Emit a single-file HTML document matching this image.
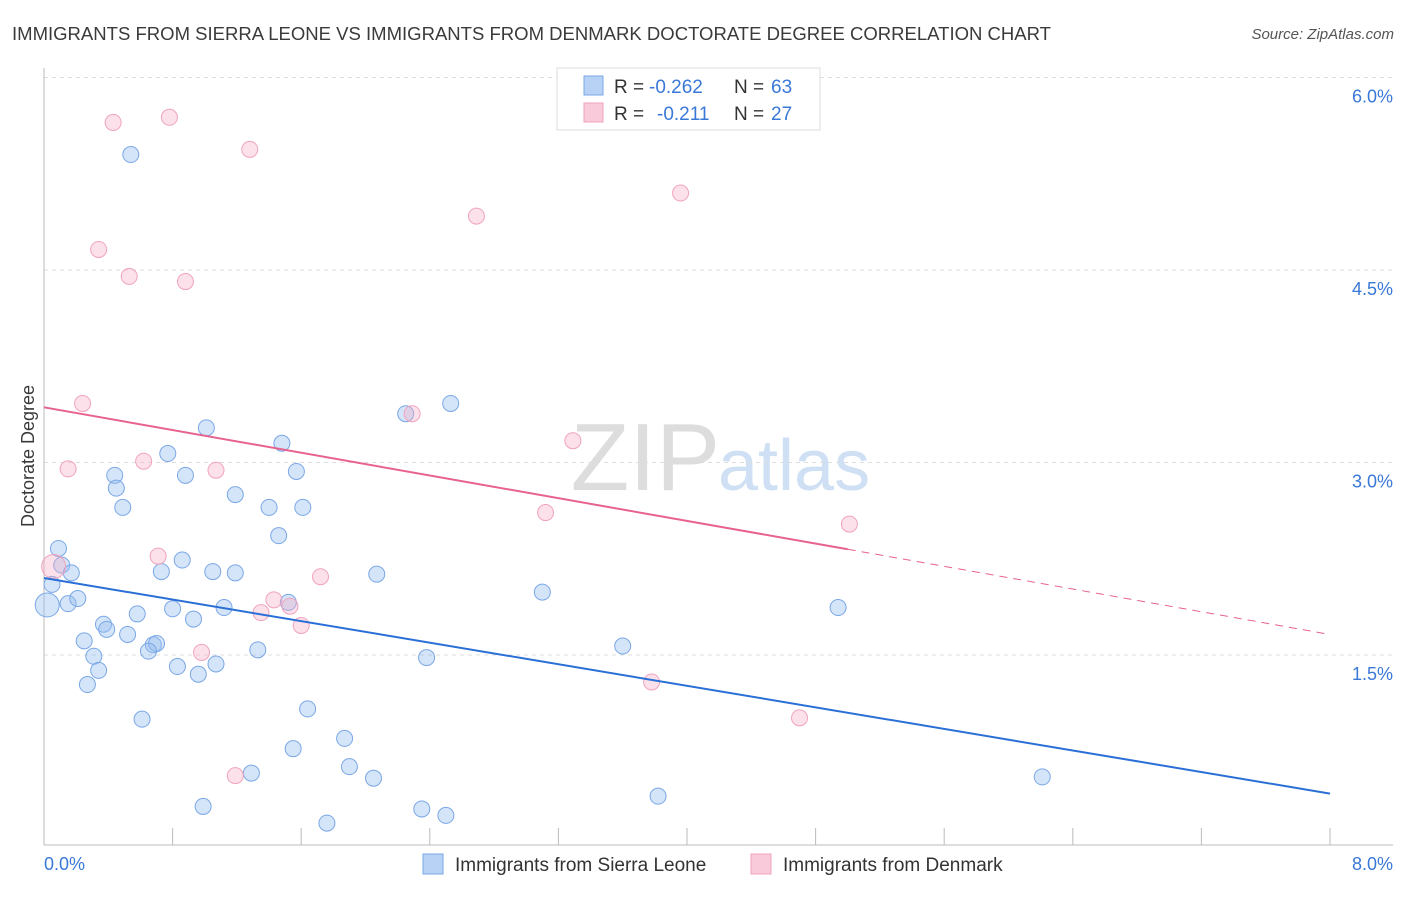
<!DOCTYPE html>
<html><head><meta charset="utf-8"><style>
body{margin:0;background:#fff;font-family:"Liberation Sans",sans-serif;}
svg text{font-family:"Liberation Sans",sans-serif;}
</style></head><body>
<svg id="c" width="1406" height="892" xmlns="http://www.w3.org/2000/svg">
<text x="12" y="40" font-size="18" fill="#3a3a3a" textLength="1039" lengthAdjust="spacingAndGlyphs">IMMIGRANTS FROM SIERRA LEONE VS IMMIGRANTS FROM DENMARK DOCTORATE DEGREE CORRELATION CHART</text>
<text x="1394" y="39" font-size="15" fill="#555" text-anchor="end" font-style="italic">Source: ZipAtlas.com</text>
<text x="720" y="490" font-size="96" fill="#ddd" text-anchor="end" font-family="Liberation Serif">ZIP</text>
<text x="718" y="490" font-size="72" fill="#cfe0f5">atlas</text>
<g id="grid"></g>
<g id="axes"></g>
<g id="pts"></g>
<g id="trend"></g>
<text transform="translate(34,456) rotate(-90)" font-size="18" fill="#3a3a3a" text-anchor="middle">Doctorate Degree</text>
<g>
<rect x="557" y="68" width="263" height="62" fill="#fff" stroke="#ddd"/>
<rect x="584" y="76" width="19" height="19" fill="#b8d2f5" stroke="#7aa7e6"/>
<rect x="584" y="103" width="19" height="19" fill="#f9cad9" stroke="#f0a3bd"/>
<text x="614" y="93" font-size="19" fill="#333">R =</text>
<text x="649" y="93" font-size="19" fill="#3a78d8">-0.262</text>
<text x="734" y="93" font-size="19" fill="#333">N =</text>
<text x="771" y="93" font-size="19" fill="#3a78d8">63</text>
<text x="614" y="120" font-size="19" fill="#333">R =</text>
<text x="657" y="120" font-size="19" fill="#3a78d8">-0.211</text>
<text x="734" y="120" font-size="19" fill="#333">N =</text>
<text x="771" y="120" font-size="19" fill="#3a78d8">27</text>
</g>
<g>
<rect x="423" y="854" width="20" height="20" fill="#b8d2f5" stroke="#7aa7e6"/>
<text x="455" y="871" font-size="19" fill="#333">Immigrants from Sierra Leone</text>
<rect x="751" y="854" width="20" height="20" fill="#f9cad9" stroke="#f0a3bd"/>
<text x="783" y="871" font-size="19" fill="#333">Immigrants from Denmark</text>
</g>
</svg>
<script>
const blueX=[0.54,0.09,0.11,0.17,0.05,0.02,0.15,0.21,0.44,0.45,0.49,0.77,0.88,1.01,1.19,1.40,1.48,1.57,1.61,1.46,0.86,0.73,1.05,1.19,0.80,0.93,1.12,1.52,2.07,0.58,0.37,0.39,0.52,0.25,0.68,0.70,0.65,0.31,0.34,0.27,0.83,0.96,1.07,1.33,2.38,0.61,1.64,1.55,1.87,1.90,2.05,1.29,0.99,1.76,2.35,2.50,2.25,2.53,3.10,3.60,3.82,4.94,6.21];
const blueY=[5.40,2.33,2.20,2.14,2.05,1.89,1.90,1.94,2.90,2.80,2.65,3.07,2.90,3.27,2.75,2.65,3.15,2.93,2.65,2.43,2.24,2.15,2.15,2.14,1.86,1.78,1.87,1.91,2.13,1.82,1.74,1.70,1.66,1.61,1.58,1.59,1.53,1.49,1.38,1.27,1.41,1.35,1.43,1.54,1.48,1.00,1.08,0.77,0.85,0.63,0.54,0.58,0.32,0.19,0.30,0.25,3.38,3.46,1.99,1.57,0.40,1.87,0.55];
const pinkX=[0.43,0.78,1.28,0.34,0.53,0.88,2.69,3.96,0.24,0.15,0.62,1.07,2.29,3.29,3.12,5.01,0.71,0.06,1.72,1.43,1.53,1.35,1.60,0.98,3.78,4.70,1.19];
const pinkY=[5.65,5.69,5.44,4.66,4.45,4.41,4.92,5.10,3.46,2.95,3.01,2.94,3.38,3.17,2.61,2.52,2.27,2.19,2.11,1.93,1.88,1.83,1.73,1.52,1.29,1.01,0.56];
const blueTrend=[2.10,0.42];
const pinkTrend=[3.43,1.66];
const pinkSolidEnd=5.0;
const yTicks=[1.5,3.0,4.5,6.0];
const yTickLabels=["1.5%","3.0%","4.5%","6.0%"];
const NS="http://www.w3.org/2000/svg";
const X=v=>44+v/8*1286;
const Y=v=>655-(v-1.5)*128.33;
function mk(t,a,p){const e=document.createElementNS(NS,t);for(const k in a)e.setAttribute(k,a[k]);p.appendChild(e);return e;}
const grid=document.getElementById('grid'),axes=document.getElementById('axes'),pts=document.getElementById('pts'),tr=document.getElementById('trend');
yTicks.forEach((v,i)=>{
 const l=mk('line',{x1:44,x2:1393,y1:Y(v),y2:Y(v),stroke:'#ddd','stroke-dasharray':'4,4'},grid);
 
 
 const t=mk('text',{x:1393,y:Y(v)+25,'font-size':18,fill:'#3a78d8','text-anchor':'end'},axes);
 t.textContent=yTickLabels[i];
 
 
});
const ax=mk('line',{x1:44,x2:44,y1:68,y2:845,stroke:'#bbb'},axes);


const bx=mk('line',{x1:44,x2:1393,y1:845,y2:845,stroke:'#bbb'},axes);


for(let i=1;i<=10;i++){const tk=mk('line',{x1:X(i*0.8),x2:X(i*0.8),y1:828,y2:845,stroke:'#bbb'},axes);
 
 }
const xl=mk('text',{x:44,y:870,'font-size':18,fill:'#3a78d8'},axes);xl.textContent='0.0%';


const xr=mk('text',{x:1393,y:870,'font-size':18,fill:'#3a78d8','text-anchor':'end'},axes);xr.textContent='8.0%';


blueX.forEach((x,i)=>{const c=mk('circle',{cx:X(x),cy:Y(blueY[i]),r:(i==5?12:8),fill:'rgba(150,190,240,0.4)',stroke:'#7aa7e6','stroke-width':1},pts);
 
 });
pinkX.forEach((x,i)=>{const c=mk('circle',{cx:X(x),cy:Y(pinkY[i]),r:(i==17?12:8),fill:'rgba(245,170,195,0.35)',stroke:'#f0a3bd','stroke-width':1},pts);
 
 });
const bl=mk('line',{x1:X(0),y1:Y(blueTrend[0]),x2:X(8),y2:Y(blueTrend[1]),stroke:'#2a6fd6','stroke-width':2},tr);


const pm=pinkTrend[0]+(pinkTrend[1]-pinkTrend[0])*pinkSolidEnd/8;
const pl=mk('line',{x1:X(0),y1:Y(pinkTrend[0]),x2:X(pinkSolidEnd),y2:Y(pm),stroke:'#e8628f','stroke-width':2},tr);


const pd=mk('line',{x1:X(pinkSolidEnd),y1:Y(pm),x2:X(8),y2:Y(pinkTrend[1]),stroke:'#e8628f','stroke-width':1,'stroke-dasharray':'8,6'},tr);


</script>
</body></html>
